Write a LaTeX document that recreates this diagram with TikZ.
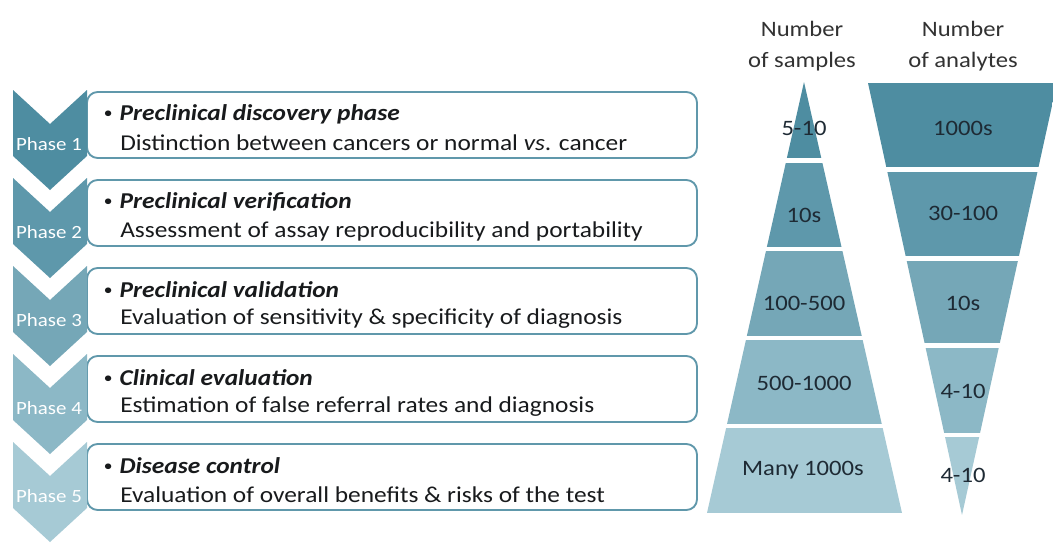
\documentclass[tikz,border=0pt]{standalone}
\usepackage{fontspec}
\setmainfont{Carlito}[FakeStretch=1.12]
\usepackage{xcolor}
\usetikzlibrary{positioning}
\definecolor{tealA}{RGB}{78,141,161}
\definecolor{tealB}{RGB}{94,152,171}
\definecolor{tealC}{RGB}{117,167,183}
\definecolor{tealD}{RGB}{140,184,198}
\definecolor{tealE}{RGB}{166,202,213}
\definecolor{frameteal}{RGB}{96,152,171}
\definecolor{inktext}{RGB}{24,26,28}
\definecolor{headgray}{RGB}{50,50,50}
\definecolor{numink}{RGB}{30,42,52}

\tikzset{
  phasebox/.style={draw=frameteal, line width=1.4pt, rounded corners=8pt},
  phaselabel/.style={text=white, font=\fontsize{14}{16}\selectfont},
  titletext/.style={anchor=west, inner sep=0pt, text=inktext, font=\fontsize{17}{20}\selectfont\bfseries\itshape},
  desctext/.style={anchor=west, inner sep=0pt, text=inktext, font=\fontsize{17}{20}\selectfont},
  numtext/.style={text=numink, font=\fontsize{16.5}{19}\selectfont},
  headtext/.style={text=headgray, align=center, font=\fontsize{16.5}{23.5}\selectfont}
}
\newcommand{\smallbullet}{\raisebox{2.2pt}{\fontsize{10}{10}\selectfont\textbullet}}

\begin{document}
\begin{tikzpicture}[x=0.75pt, y=-0.75pt]
\useasboundingbox (0,0) rectangle (1053,543);
\fill[white] (0,0) rectangle (1053,543);

% phase chevrons and their boxes
\foreach \k/\col/\title/\desc in {
  1/tealA/{Preclinical discovery phase}/{Distinction between cancers or normal \textit{vs}. cancer},
  2/tealB/{Preclinical verification}/{Assessment of assay reproducibility and portability},
  3/tealC/{Preclinical validation}/{Evaluation of sensitivity \& specificity of diagnosis},
  4/tealD/{Clinical evaluation}/{Estimation of false referral rates and diagnosis},
  5/tealE/{Disease control}/{Evaluation of overall benefits \& risks of the test}}
{
  \pgfmathsetmacro{\T}{2+88*\k}
  \draw[phasebox] (87,\T+2) rectangle (697,\T+68);
  \fill[\col] (13,\T) -- (50,\T+34) -- (87,\T) -- (87,\T+66) -- (50,\T+100) -- (13,\T+66) -- cycle;
  \node[phaselabel] (phase\k) at (49,\T+54) {Phase \k};
  \node[titletext] (title\k) at (104,\T+24) {\smallbullet\hspace{6pt}\title};
  \node[desctext] (desc\k) at (120,\T+53) {\desc};
}

% number of samples
\begin{scope}
  \clip (804,82) -- (902,513) -- (707,513) -- cycle;
  \foreach \top/\bot/\col in {82/158/tealA, 163/247/tealB, 251/336/tealC, 340/424/tealD, 428/513/tealE}
    \fill[\col] (700,\top) rectangle (910,\bot);
\end{scope}
\node[headtext] (samplehead) at (802,46) {Number\\of samples};
\node[numtext] (smp1) at (804,128) {5-10};
\node[numtext] (smp2) at (804,215) {10s};
\node[numtext] (smp3) at (804,303) {100-500};
\node[numtext] (smp4) at (804,383) {500-1000};
\node[numtext] (smp5) at (803,470) {Many 1000s};

% number of analytes
\begin{scope}
  \clip (868,83) -- (1057,83) -- (962,515) -- cycle;
  \foreach \top/\bot/\col in {83/167/tealA, 172/256/tealB, 261/343/tealC, 348/433/tealD, 437/515/tealE}
    \fill[\col] (860,\top) rectangle (1060,\bot);
\end{scope}
\node[headtext] (analytehead) at (963,46) {Number\\of analytes};
\node[numtext] (ana1) at (963,128) {1000s};
\node[numtext] (ana2) at (963,213) {30-100};
\node[numtext] (ana3) at (963,303) {10s};
\node[numtext] (ana4) at (963,391) {4-10};
\node[numtext] (ana5) at (963,475) {4-10};
\end{tikzpicture}
\end{document}
